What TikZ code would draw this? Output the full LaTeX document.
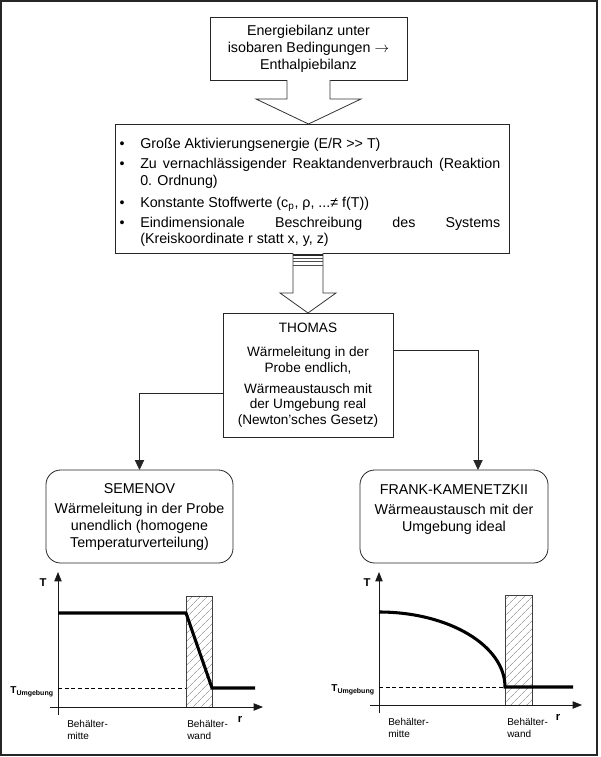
\documentclass[tikz,border=0pt]{standalone}
\usepackage{fontspec}
\setmainfont{Liberation Sans}
\usetikzlibrary{arrows.meta, positioning, calc, patterns.meta}

\begin{document}
\begin{tikzpicture}[x=0.75pt, y=-0.75pt,
    box/.style={draw=black!85, line width=0.6pt, inner sep=2pt, outer sep=0pt, align=center},
    roundbox/.style={box, rounded corners=11pt},
    blockarrow/.style={draw=black!80, line width=0.6pt, fill=white},
    conn/.style={draw=black!85, line width=0.6pt, -{Triangle[length=7.5pt, width=7pt]}},
    axis/.style={draw=black!90, line width=0.6pt, -{Triangle[length=7pt, width=5.5pt]}},
    profile/.style={line width=2.3pt},
    wall/.style={draw=black!75, line width=0.5pt, pattern={Lines[angle=45, distance=4pt, line width=0.6pt]}, pattern color=black!35},
    limit/.style={line width=0.5pt, dash pattern=on 3pt off 2pt},
    itemtext/.style={anchor=base west, inner sep=0pt, font=\fontsize{10.7}{12.75}\selectfont},
    axislabel/.style={inner sep=0pt, font=\bfseries\fontsize{8.5}{9}\selectfont},
    small/.style={inner sep=0pt, anchor=north west, align=left, font=\fontsize{7.5}{9}\selectfont}]

    \useasboundingbox (0,0) rectangle (600,757);
    % Outer frame
    \draw[line width=1pt, black!85] (1,1) rectangle (597,755);

    % Energy balance
    \node[box, minimum width=147.75pt, minimum height=47.25pt, font=\fontsize{10.7}{12.75}\selectfont] (energie) at (308.5,48.5)
        {Energiebilanz unter\\isobaren Bedingungen $\rightarrow$\\Enthalpiebilanz};

    % Assumptions
    \node[box, minimum width=295.5pt, minimum height=96.75pt] (annahmen) at (312,188.5) {};
    \foreach \yb in {148,168,207,227}
        \node[itemtext, anchor=base] (bullet\yb) at (122,\yb) {•};
    \node[itemtext] (item1) at (140,148) {Große Aktivierungsenergie (E/R >{}> T)};
    \node[itemtext] (item2a) at (140,168) {\makebox[270pt][s]{Zu vernachlässigender Reaktandenverbrauch (Reaktion}};
    \node[itemtext] (item2b) at (140,185) {0. Ordnung)};
    \node[itemtext] (item3) at (140,207) {Konstante Stoffwerte (c\textsubscript{p}, ρ, ...≠ f(T))};
    \node[itemtext] (item4a) at (140,227) {\makebox[270pt][s]{Eindimensionale Beschreibung des Systems}};
    \node[itemtext] (item4b) at (140,243.5) {(Kreiskoordinate r statt x, y, z)};

    % Block arrows
    \draw[blockarrow] ($(energie.south)+(-21.5,0)$) -- ++(0,19) -- ++(-31,0) -- (energie.south |- annahmen.north)
        -- ++(52.5,-25) -- ++(-31,0) -- ++(0,-19);

    % THOMAS
    \node[box, minimum width=127.5pt, minimum height=93pt, font=\fontsize{10.2}{11.6}\selectfont] (thomas) at (308,375)
        {THOMAS\\[6.4pt]Wärmeleitung in der\\Probe endlich,\\[4.2pt]Wärmeaustausch mit\\der Umgebung real\\(Newton's\-ches Gesetz)};

    \draw[blockarrow] ($(thomas.north)+(-15,-60)$) -- ++(0,40) -- ++(-13,0) -- (thomas.north)
        -- ++(28,-20) -- ++(-13,0) -- ++(0,-40);
    \draw[line width=1.3pt, black!85] (293,255) -- (323,255);
    \foreach \ys in {258.5,261.5,265}
        \draw[line width=0.5pt, black!70] (293,\ys) -- (323,\ys);

    % Limiting cases
    \node[roundbox, minimum width=140.25pt, minimum height=69.75pt, font=\fontsize{10.7}{12.75}\selectfont] (semenov) at (139.5,516.5)
        {SEMENOV\\[2.25pt]Wärmeleitung in der Probe\\unendlich (homogene\\Temperaturverteilung)};
    \node[roundbox, minimum width=141pt, minimum height=69.75pt, font=\fontsize{10.7}{12.75}\selectfont] (frank) at (454,516.5)
        {FRANK-KAMENETZKII\\[2.25pt]Wärmeaustausch mit der\\Umgebung ideal\\\mbox{}};

    \draw[conn] ([yshift=-13.5pt]thomas.west) -| (semenov.north);
    \draw[conn] ([yshift=18.75pt]thomas.east) -| ([xshift=18pt]frank.north);

    % SEMENOV profile
    \draw[wall] (186,596) rectangle (212,707);
    \draw[axis] (58,715) -- (58,572);
    \draw[axis] (50,707) -- (263,707);
    \draw[limit] (58,688) -- (186,688);
    \draw[profile] (58,613) -- (186,613) -- (212,688) -- (255,688);
    \node[axislabel] (tsem) at (43,583) {T};
    \node[axislabel, anchor=east, font=\bfseries\fontsize{7.5}{9}\selectfont] (tusem) at (54,692) {T\textsubscript{Umgebung}};
    \node[axislabel] (rsem) at (240,719) {r};
    \node[small] (mittesem) at (67,720) {Behälter-\\mitte};
    \node[small] (wandsem) at (187,720) {Behälter-\\wand};

    % FRANK-KAMENETZKII profile
    \draw[wall] (505,595) rectangle (532,705);
    \draw[axis] (379,713) -- (379,572);
    \draw[axis] (370,705) -- (582,705);
    \draw[limit] (379,687) -- (505,687);
    \draw[profile] (379,612) arc (270:360:126 and 75) -- (573,687);
    \node[axislabel] (tfk) at (367,583) {T};
    \node[axislabel, anchor=east, font=\bfseries\fontsize{7.5}{9}\selectfont] (tufk) at (375,690) {T\textsubscript{Umgebung}};
    \node[axislabel] (rfk) at (558,717) {r};
    \node[small] (mittefk) at (388,718) {Behälter-\\mitte};
    \node[small] (wandfk) at (507,718) {Behälter-\\wand};
\end{tikzpicture}
\end{document}
